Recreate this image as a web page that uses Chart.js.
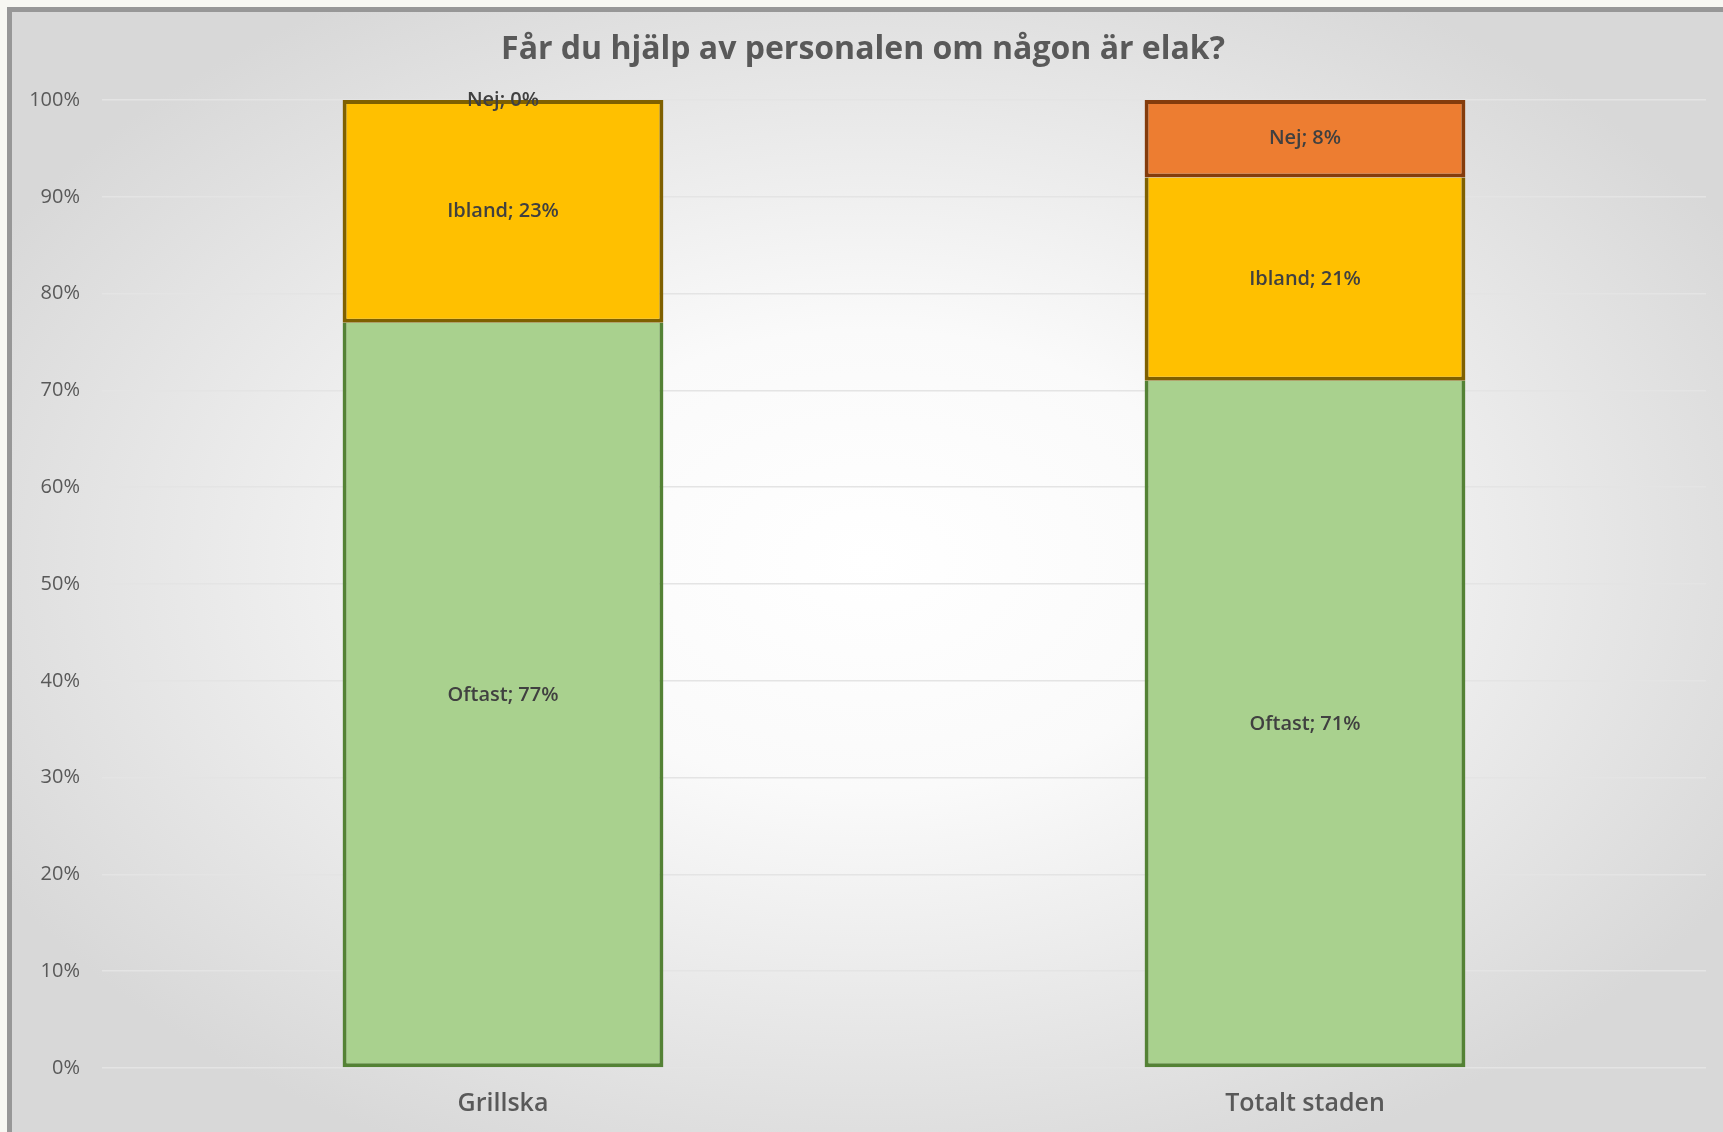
<!DOCTYPE html>
<html>
<head>
<meta charset="utf-8">
<script src="https://cdn.jsdelivr.net/npm/chart.js@4/dist/chart.umd.min.js"></script>
<style>
  html, body { margin: 0; padding: 0; background: #f7f7f2; }
  #wrap { width: 1723px; height: 1132px; position: relative; }
</style>
</head>
<body>
<div id="wrap"><canvas id="chart"></canvas></div>
<script>
const categories = ['Grillska', 'Totalt staden']
const seriesNames = ['Oftast', 'Ibland', 'Nej']
const oftast = [77, 71]
const ibland = [23, 21]
const nej = [0, 8]
const yTicks = [0, 10, 20, 30, 40, 50, 60, 70, 80, 90, 100]

const FONT = '"Open Sans", Lato, sans-serif'

// frame + radial background behind everything
const backdrop = {
  id: 'backdrop',
  beforeDraw (chart) {
    const { ctx, width, height } = chart
    ctx.save()
    ctx.fillStyle = '#f7f7f2'
    ctx.fillRect(0, 0, width, height)
    ctx.fillStyle = '#979797'
    ctx.fillRect(7, 7, width, height)
    ctx.beginPath()
    ctx.rect(12, 12, width, height)
    ctx.clip()
    ctx.translate(870, 560)
    ctx.scale(1, height / width)
    const g = ctx.createRadialGradient(0, 0, 0, 0, 0, 1000)
    g.addColorStop(0, '#ffffff')
    g.addColorStop(0.35, '#fafafa')
    g.addColorStop(1, '#d8d8d8')
    ctx.fillStyle = g
    ctx.fillRect(-2000, -2000, 4000, 4000)
    ctx.restore()
  }
}

// "Label; NN%" in the middle of each segment
const segmentLabels = {
  id: 'segmentLabels',
  afterDatasetsDraw (chart) {
    const { ctx } = chart
    ctx.save()
    ctx.font = '600 20px ' + FONT
    ctx.fillStyle = '#404040'
    ctx.textAlign = 'center'
    ctx.textBaseline = 'middle'
    chart.data.datasets.forEach((ds, i) => {
      const meta = chart.getDatasetMeta(i)
      meta.data.forEach((bar, j) => {
        const { x, y, base } = bar.getProps(['x', 'y', 'base'], true)
        ctx.fillText(ds.label + '; ' + ds.data[j] + '%', x, (y + base) / 2)
      })
    })
    ctx.restore()
  }
}

// skip the top border of a segment when a non-empty segment sits on it
function skipTopIfCovered (above) {
  return ctx => (above[ctx.dataIndex] > 0 ? 'end' : false)
}

new Chart(document.getElementById('chart'), {
  type: 'bar',
  data: {
    labels: categories,
    datasets: [
      {
        label: seriesNames[0],
        data: oftast,
        backgroundColor: '#a9d18e',
        borderColor: '#548235',
        borderWidth: 4,
        borderSkipped: 'end'
      },
      {
        label: seriesNames[1],
        data: ibland,
        backgroundColor: '#ffc000',
        borderColor: '#7f6000',
        borderWidth: 4,
        borderSkipped: skipTopIfCovered(nej)
      },
      {
        label: seriesNames[2],
        data: nej,
        backgroundColor: '#ed7d31',
        borderColor: '#843c0c',
        borderWidth: 4,
        borderSkipped: false
      }
    ]
  },
  options: {
    responsive: true,
    maintainAspectRatio: false,
    animation: false,
    layout: { padding: { top: 0, left: 20, right: 17, bottom: 0 } },
    datasets: { bar: { categoryPercentage: 1, barPercentage: 0.4 } },
    plugins: {
      legend: { display: false },
      tooltip: { enabled: false },
      title: {
        display: true,
        text: 'Får du hjälp av personalen om någon är elak?',
        color: '#595959',
        font: { family: FONT, size: 32, weight: 'bold' },
        padding: { top: 31, bottom: 30.6 }
      }
    },
    scales: {
      x: {
        stacked: true,
        grid: { display: false },
        border: { display: false },
        ticks: {
          color: '#595959',
          font: { family: FONT, size: 25, weight: '600' },
          padding: 13
        },
        afterFit (scale) { scale.height = 64 }
      },
      y: {
        stacked: true,
        min: 0,
        max: 100,
        afterBuildTicks (scale) { scale.ticks = yTicks.map(v => ({ value: v })) },
        grid: { color: '#e4e4e4', lineWidth: 1.5, drawTicks: false },
        border: { display: false },
        ticks: {
          color: '#595959',
          font: { family: FONT, size: 20 },
          padding: 22,
          callback: v => v + '%'
        },
        afterFit (scale) { scale.width = 82 }
      }
    }
  },
  plugins: [backdrop, segmentLabels]
})
</script>
</body>
</html>
